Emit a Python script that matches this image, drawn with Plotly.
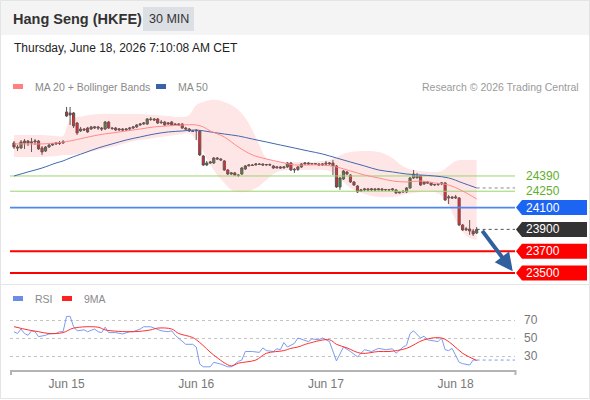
import plotly.graph_objects as go

W, H = 590, 400
def px(x): return x / W
def py(y): return 1 - y / H

FONT = "Liberation Sans, Arial, sans-serif"

# ---------------- data (30-min bars, index based) ----------------
bar_idx = list(range(133))
opens = [24693,24656,24647,24693,24711,24693,24702,24711,24647,24619,24656,24674,24684,24693,24693,
         24977,24950,24968,24876,24803,24821,24830,24821,24830,24840,24830,24821,24885,24830,24830,24812,24821,24812,24821,24830,24840,24858,24867,24867,24913,24913,24913,24885,24885,24867,24885,24867,24867,24867,24830,24821,24803,
         24803,24803,24573,24491,24509,24509,24555,24546,24528,24445,24408,24418,24399,24408,24454,24482,24491,24491,24500,24500,24491,24495,24482,24463,24473,24463,24473,24509,24445,24450,24473,24500,24509,24500,24504,24500,24491,
         24509,24500,24509,24482,24289,24362,24427,24399,24335,24298,24252,24262,24271,24262,24271,24262,24271,24262,24266,24262,24262,24234,24243,24243,24280,24372,24372,24390,24317,24335,24326,24307,24312,24317,24326,24188,24197,
         24188,24188,23940,23895,23904,23885,23867]
highs = [24711,24674,24720,24729,24720,24739,24729,24720,24665,24665,24684,24693,24702,24711,24720,
         25023,25023,24977,24885,24840,24830,24840,24849,24849,24849,24840,24895,24895,24840,24840,24830,24830,24830,24840,24849,24867,24876,24885,24922,24931,24922,24922,24904,24895,24885,24895,24876,24876,24876,24840,24830,24812,
         24821,24812,24583,24528,24528,24564,24564,24555,24537,24454,24427,24427,24408,24473,24491,24500,24500,24509,24509,24505,24500,24505,24491,24482,24482,24482,24518,24518,24463,24482,24509,24518,24518,24509,24509,24509,24509,
         24528,24518,24537,24491,24381,24445,24436,24408,24344,24307,24271,24280,24280,24280,24280,24280,24280,24271,24271,24280,24271,24252,24262,24289,24381,24445,24418,24399,24344,24344,24335,24317,24326,24335,24335,24216,24206,
         24216,24197,23950,23922,23986,23904,23922]
lows = [24638,24619,24638,24638,24665,24610,24674,24629,24583,24610,24647,24665,24674,24674,24684,
        24931,24858,24830,24766,24794,24803,24785,24812,24821,24812,24803,24812,24821,24812,24803,24803,24803,24803,24812,24821,24830,24849,24858,24858,24895,24895,24867,24867,24849,24858,24849,24858,24849,24821,24812,24794,24794,
        24720,24573,24482,24482,24500,24500,24537,24528,24436,24399,24399,24390,24381,24399,24445,24482,24482,24487,24491,24482,24482,24482,24454,24460,24454,24460,24463,24436,24418,24436,24463,24491,24491,24491,24491,24482,24482,
        24482,24491,24399,24280,24262,24353,24399,24326,24298,24234,24243,24252,24252,24252,24252,24258,24252,24252,24252,24252,24225,24230,24234,24234,24271,24362,24368,24298,24307,24317,24298,24298,24298,24307,24161,24133,24179,
        24179,23931,23885,23885,23849,23840,23858]
closes = [24656,24647,24702,24711,24693,24702,24711,24638,24610,24656,24674,24684,24693,24690,24702,
          24941,24968,24849,24785,24821,24812,24794,24840,24840,24830,24821,24885,24830,24826,24812,24821,24812,24821,24830,24840,24858,24867,24876,24913,24909,24904,24876,24880,24858,24876,24858,24862,24858,24830,24821,24803,24799,
          24808,24583,24491,24509,24518,24555,24546,24537,24445,24408,24418,24399,24395,24463,24482,24491,24487,24500,24496,24491,24495,24491,24463,24473,24463,24473,24509,24445,24450,24473,24500,24509,24500,24504,24500,24491,24500,
          24500,24509,24482,24289,24372,24436,24408,24335,24307,24243,24262,24271,24262,24271,24262,24271,24262,24266,24262,24271,24234,24243,24248,24280,24372,24408,24390,24307,24335,24326,24307,24312,24317,24326,24170,24197,24188,
          24197,23940,23895,23904,23885,23858,23900]

ma20_idx = [0,4,8,12,14,16,20,24,28,32,36,40,44,48,52,54,56,60,64,68,72,76,80,84,88,92,96,100,104,108,112,116,120,124,128,132]
ma20 = [24684,24684,24684,24693,24702,24711,24739,24766,24785,24803,24821,24840,24849,24858,24858,24840,24803,24748,24656,24583,
        24546,24518,24491,24491,24491,24473,24436,24399,24372,24344,24335,24344,24326,24307,24252,24179]

bb_idx = [0,4,8,12,14,16,20,24,28,32,36,40,44,48,50,52,54,56,58,60,62,64,66,68,70,72,74,76,80,84,88,90,92,94,96,100,104,108,110,112,114,116,120,122,124,126,128,130,132]
bb_upper = [24766,24766,24766,24757,24757,24904,24941,24959,24959,24959,24959,24950,24941,24931,24950,25041,25069,25087,25087,25069,
            25041,24996,24922,24812,24674,24555,24528,24518,24518,24518,24528,24537,24564,24592,24610,24619,24610,24555,24500,24463,
            24445,24436,24427,24436,24482,24528,24537,24537,24537]
bb_lower = [24564,24564,24564,24573,24583,24583,24601,24629,24656,24693,24720,24739,24757,24775,24785,24720,24610,24491,24399,24326,
            24262,24243,24243,24262,24298,24353,24408,24436,24445,24445,24445,24436,24399,24335,24280,24225,24197,24197,24206,24225,
            24234,24243,24243,24206,24124,23986,23876,23821,23803]

ma50_idx = [0,4,8,12,14,16,20,24,28,32,36,40,44,48,52,56,60,64,68,72,76,80,84,88,92,96,100,104,108,112,116,120,124,128,132]
ma50 = [24390,24427,24463,24509,24528,24555,24601,24647,24684,24720,24748,24775,24794,24803,24812,24794,24775,24757,24729,24702,
        24674,24647,24619,24592,24555,24518,24482,24445,24427,24408,24399,24390,24372,24326,24280]

rsi_idx = [0,1,2,3,4,5,6,7,9,10,12,13,14,15,16,17,18,20,21,23,24,25,26,27,29,31,33,34,36,37,39,40,42,44,45,46,48,49,51,52,
           53,54,56,57,59,61,62,64,65,66,68,70,71,72,74,75,76,77,78,80,81,84,85,87,88,89,90,92,94,96,98,100,102,104,106,108,109,
           111,112,113,114,116,117,118,120,121,122,123,124,125,127,128,130,131,132]
rsi = [57,55,60,55,53,58,57,51.5,53,54.5,55,57,57,74,74,62.6,58,59,57,60,57,56,62,56,56,54.5,57,57,60,62.5,62.5,61,58,57,58,53,46,43,43,40,
       21,18,18,23,21,18,18,24,25.5,35,35,34,39,36,35,38,37,45,40,44,50,46,49,48,50,48,46,24.5,40,35,29,37,35,38.5,37,38,33,
       40,42,55,58,50,52,48,47,46,50,37,36,38.5,23,21.5,20,25.5,25.5]

ma9_idx = [0,4,7,10,14,17,24,26,34,39,41,45,47,51,53,57,62,64,69,72,77,79,81,84,90,92,95,99,104,107,112,117,122,125,128,132]
ma9 = [62.6,59,57,55,56,61,62,59,57,59,61,60,55,50.5,45,31,19,22,25.5,33,36,38.5,40,44,48,43,39,33,35,35,38.5,48,50,43,33,25]

day_ticks = [15, 52, 89, 126]
day_labels = ["Jun 15", "Jun 16", "Jun 17", "Jun 18"]

resistances = [24390, 24250]
pivot = 24100
last_price = 23900
supports = [23700, 23500]
rsi_levels = [30, 50, 70]

# ---------------- axes geometry ----------------
X_RANGE = [-1.14, 142.94]
Y_RANGE = [23408, 25133]
RSI_RANGE = [14.44, 86.67]
main_dom = [py(283), py(95)]
rsi_dom = [py(370), py(305)]
x_dom = [px(10), px(515)]
price_per_px = (Y_RANGE[1] - Y_RANGE[0]) / 188.0

fig = go.Figure()

# Bollinger band
fig.add_trace(go.Scatter(x=bb_idx, y=bb_lower, mode="lines", line=dict(width=0, shape="spline"),
                         hoverinfo="skip", xaxis="x", yaxis="y"))
fig.add_trace(go.Scatter(x=bb_idx, y=bb_upper, mode="lines", line=dict(width=0, shape="spline"),
                         fill="tonexty", fillcolor="rgba(255,90,90,0.15)", hoverinfo="skip", xaxis="x", yaxis="y"))

# level lines as traces across the plot width
fig.add_trace(go.Scatter(x=[X_RANGE[0], X_RANGE[1] + 0.6], y=[pivot, pivot], mode="lines",
                         line=dict(color="#4f86f2", width=1.6), cliponaxis=False, xaxis="x", yaxis="y"))
for r in resistances:
    fig.add_trace(go.Scatter(x=[X_RANGE[0], X_RANGE[1] + 0.6], y=[r, r], mode="lines",
                             line=dict(color="#9ad46e", width=1), cliponaxis=False, xaxis="x", yaxis="y"))
for s in supports:
    fig.add_trace(go.Scatter(x=[X_RANGE[0], X_RANGE[1] + 0.6], y=[s, s], mode="lines",
                             line=dict(color="#ff0000", width=2), cliponaxis=False, xaxis="x", yaxis="y"))

fig.add_trace(go.Scatter(x=ma50_idx, y=ma50, mode="lines", line=dict(color="#4168ad", width=1, shape="spline"),
                         xaxis="x", yaxis="y"))
fig.add_trace(go.Scatter(x=ma20_idx, y=ma20, mode="lines", line=dict(color="#ff8a8a", width=1, shape="spline"),
                         xaxis="x", yaxis="y"))
# dotted extensions
fig.add_trace(go.Scatter(x=[ma50_idx[-1], X_RANGE[1]], y=[ma50[-1], ma50[-1]], mode="lines",
                         line=dict(color="#8a8a8a", width=1, dash="dot"), xaxis="x", yaxis="y"))
fig.add_trace(go.Scatter(x=[bar_idx[-1], X_RANGE[1]], y=[closes[-1], closes[-1]], mode="lines",
                         line=dict(color="#555555", width=1, dash="dot"), xaxis="x", yaxis="y"))

fig.add_trace(go.Candlestick(x=bar_idx, open=opens, high=highs, low=lows, close=closes,
                             increasing=dict(line=dict(color="#555555", width=1), fillcolor="#2f9a3a"),
                             decreasing=dict(line=dict(color="#555555", width=1), fillcolor="#ee1c25"),
                             whiskerwidth=0, xaxis="x", yaxis="y"))

# RSI pane
fig.add_trace(go.Scatter(x=rsi_idx, y=rsi, mode="lines", line=dict(color="#7b9cf0", width=1),
                         xaxis="x2", yaxis="y2"))
fig.add_trace(go.Scatter(x=[rsi_idx[-1], X_RANGE[1]], y=[rsi[-1], rsi[-1]], mode="lines",
                         line=dict(color="#7b9cf0", width=1, dash="dot"), xaxis="x2", yaxis="y2"))
fig.add_trace(go.Scatter(x=ma9_idx, y=ma9, mode="lines", line=dict(color="#ff3030", width=1, shape="spline"),
                         xaxis="x2", yaxis="y2"))

shapes = []
annotations = []

# header background and frame
shapes.append(dict(type="rect", xref="paper", yref="paper", x0=0, x1=1, y0=py(35), y1=1,
                   fillcolor="#f4f4f4", line=dict(width=0), layer="below"))
shapes.append(dict(type="rect", xref="paper", yref="paper", x0=px(143), x1=px(194), y0=py(31), y1=py(7),
                   fillcolor="#dcdfe3", line=dict(width=0), layer="below"))
shapes.append(dict(type="line", xref="paper", yref="paper", x0=0, x1=1, y0=py(284.5), y1=py(284.5),
                   line=dict(color="#e6e6e6", width=1)))
shapes.append(dict(type="rect", xref="paper", yref="paper", x0=px(0.5), x1=px(589.5), y0=py(398.5), y1=py(0.5),
                   line=dict(color="#e4e4e4", width=1), fillcolor="rgba(0,0,0,0)"))

annotations.append(dict(xref="paper", yref="paper", x=px(11), y=py(19), xanchor="left", yanchor="middle",
                        text="<b>Hang Seng (HKFE)</b>", showarrow=False, font=dict(size=14.5, color="#333333")))
annotations.append(dict(xref="paper", yref="paper", x=px(168.5), y=py(19), xanchor="center", yanchor="middle",
                        text="30 MIN", showarrow=False, font=dict(size=12.5, color="#333333")))
annotations.append(dict(xref="paper", yref="paper", x=px(12), y=py(48), xanchor="left", yanchor="middle",
                        text="Thursday, June 18, 2026 7:10:08 AM CET", showarrow=False,
                        font=dict(size=12, color="#222222")))

# legends
def legend_item(x0, y, color, label):
    shapes.append(dict(type="rect", xref="paper", yref="paper", x0=px(x0), x1=px(x0 + 10),
                       y0=py(y + 2.5), y1=py(y - 2.5), fillcolor=color, line=dict(width=0)))
    annotations.append(dict(xref="paper", yref="paper", x=px(x0 + 20), y=py(y), xanchor="left",
                            yanchor="middle", text=label, showarrow=False, font=dict(size=10.5, color="#8a8a8a")))

legend_item(13, 86.5, "#ff8080", "MA 20 + Bollinger Bands")
legend_item(156, 86.5, "#3a62a8", "MA 50")
legend_item(13, 298.5, "#6a8ee8", "RSI")
legend_item(62, 298.5, "#ff2020", "9MA")
annotations.append(dict(xref="paper", yref="paper", x=px(581), y=py(86.5), xanchor="right", yanchor="middle",
                        text="Research © 2026 Trading Central", showarrow=False,
                        font=dict(size=10.5, color="#9a9a9a")))

# price label boxes
def level_box(v, color):
    h = 7.5 * price_per_px
    path = (f"M {px(516)},{v} L {px(522)},{v + h} L {px(587)},{v + h} "
            f"L {px(587)},{v - h} L {px(522)},{v - h} Z")
    shapes.append(dict(type="path", xref="paper", yref="y", path=path, fillcolor=color, line=dict(width=0)))
    annotations.append(dict(xref="paper", yref="y", x=px(524), y=v, xanchor="left", yanchor="middle",
                            text=str(v), showarrow=False, font=dict(size=12, color="white")))

for r in resistances:
    annotations.append(dict(xref="paper", yref="y", x=px(524), y=r, xanchor="left", yanchor="middle",
                            text=str(r), showarrow=False, font=dict(size=12, color="#5fae2a")))
level_box(pivot, "#1c64f2")
level_box(last_price, "#333333")
for s in supports:
    level_box(s, "#ff0000")

# arrow
annotations.append(dict(x=142.3, y=supports[-1] + 15, ax=bar_idx[-1] + 1.3, ay=last_price,
                        xref="x", yref="y", axref="x", ayref="y", text="", showarrow=True,
                        arrowhead=2, arrowsize=0.9, arrowwidth=4, arrowcolor="#30609e", standoff=0))

# small end ticks of the time axis
for xe in (11, 515.5):
    shapes.append(dict(type="line", xref="paper", yref="paper", x0=px(xe), x1=px(xe), y0=py(375), y1=py(370),
                       line=dict(color="#b4b4b4", width=2)))

fig.update_layout(
    width=W, height=H, margin=dict(l=0, r=0, t=0, b=0),
    paper_bgcolor="white", plot_bgcolor="white", showlegend=False, hovermode=False,
    font=dict(family=FONT), boxgap=0.12,
    xaxis=dict(domain=x_dom, range=X_RANGE, anchor="y", showticklabels=False, showgrid=False,
               zeroline=False, rangeslider=dict(visible=False), fixedrange=True),
    yaxis=dict(domain=main_dom, range=Y_RANGE, anchor="x", showticklabels=False, showgrid=False,
               zeroline=False, fixedrange=True),
    xaxis2=dict(domain=x_dom, range=X_RANGE, anchor="y2", matches="x", tickvals=day_ticks, ticktext=day_labels,
                showgrid=False, zeroline=False, showline=True, linecolor="#b4b4b4", linewidth=2,
                ticks="", tickfont=dict(size=12, color="#777777"), ticklabelstandoff=2, fixedrange=True),
    yaxis2=dict(domain=rsi_dom, range=RSI_RANGE, anchor="x2", side="right", tickvals=rsi_levels,
                showgrid=True, gridcolor="#c4c4c4", griddash="dot", gridwidth=1, zeroline=False,
                ticks="", tickfont=dict(size=12, color="#777777"), ticklabelstandoff=8, fixedrange=True),
    shapes=shapes, annotations=annotations,
)

fig.write_html("out.html", config={"displayModeBar": False},
               post_script="document.body.style.margin='0';")
